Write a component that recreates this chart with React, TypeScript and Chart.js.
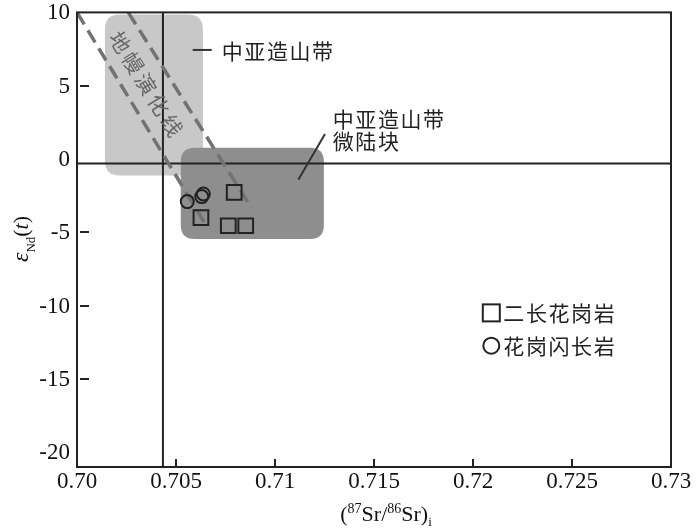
import React, { useEffect, useRef } from "react";
import { Chart, registerables } from "chart.js";

Chart.register(...registerables);

// ---------- data ----------
const xTickValues = [0.7, 0.705, 0.71, 0.715, 0.72, 0.725, 0.73];
const xTickLabels = ["0.70", "0.705", "0.71", "0.715", "0.72", "0.725", "0.73"];
const yTickValues = [10, 5, 0, -5, -10, -15, -20];
const yTickLabels = ["10", "5", "0", "-5", "-10", "-15", "-20"];
const xInnerTicks = [0.705, 0.71, 0.715, 0.72, 0.725];
const yInnerTicks = [5, -5, -10, -15];

const monzograniteLabel = "二长花岗岩";
const monzograniteX = [0.70794, 0.70626, 0.70764, 0.70852];
const monzograniteY = [-2.27, -3.99, -4.55, -4.55];

const granodioriteLabel = "花岗闪长岩";
const granodioriteX = [0.70557, 0.7063, 0.70638];
const granodioriteY = [-2.9, -2.56, -2.38];

const mantleLineAX = [0.7, 0.70646];
const mantleLineAY = [10, -4.39];
const mantleLineBX = [0.70259, 0.70882];
const mantleLineBY = [10, -3.35];

const bulkEarthSr = 0.70434;
const churNd = -0.3;

const caobFieldX = [0.70141, 0.70636];
const caobFieldY = [-1.13, 9.86];
const microFieldX = [0.70524, 0.71247];
const microFieldY = [-5.46, 0.77];

const caobText = "中亚造山带";
const microText = ["中亚造山带", "微陆块"];
const mantleText = "地幔演化线";

const X_MIN = 0.7;
const X_MAX = 0.73;
const Y_MIN = -21;
const Y_MAX = 10;

// ---------- helpers ----------
const SERIF = "'Liberation Serif', 'Times New Roman', serif";
const CJK = "'Noto Sans CJK SC', 'Noto Sans', sans-serif";

function roundRectPath(ctx: CanvasRenderingContext2D, x0: number, y0: number, x1: number, y1: number, r: number) {
  const x = Math.min(x0, x1), y = Math.min(y0, y1);
  const w = Math.abs(x1 - x0), h = Math.abs(y1 - y0);
  ctx.beginPath();
  ctx.moveTo(x + r, y);
  ctx.lineTo(x + w - r, y);
  ctx.quadraticCurveTo(x + w, y, x + w, y + r);
  ctx.lineTo(x + w, y + h - r);
  ctx.quadraticCurveTo(x + w, y + h, x + w - r, y + h);
  ctx.lineTo(x + r, y + h);
  ctx.quadraticCurveTo(x, y + h, x, y + h - r);
  ctx.lineTo(x, y + r);
  ctx.quadraticCurveTo(x, y, x + r, y);
  ctx.closePath();
}

type Part = { t: string; font: string; dy: number };
function drawRich(ctx: CanvasRenderingContext2D, parts: Part[], cx: number, baseY: number) {
  let total = 0;
  for (const p of parts) {
    ctx.font = p.font;
    total += ctx.measureText(p.t).width;
  }
  let x = cx - total / 2;
  ctx.textAlign = "left";
  ctx.textBaseline = "alphabetic";
  for (const p of parts) {
    ctx.font = p.font;
    ctx.fillText(p.t, x, baseY + p.dy);
    x += ctx.measureText(p.t).width;
  }
}

function cjkText(ctx: CanvasRenderingContext2D, text: string, x: number, y: number, size: number, spacing: number, color: string) {
  ctx.save();
  ctx.font = `${size}px ${CJK}`;
  (ctx as any).letterSpacing = `${spacing}px`;
  ctx.fillStyle = color;
  ctx.textAlign = "left";
  ctx.textBaseline = "middle";
  ctx.fillText(text, x, y);
  ctx.restore();
}

const annotPlugin = {
  id: "annot",
  beforeDatasetsDraw(chart: any) {
    const { ctx, scales } = chart;
    const xs = scales.x, ys = scales.y;
    ctx.save();
    roundRectPath(ctx, xs.getPixelForValue(caobFieldX[0]), ys.getPixelForValue(caobFieldY[1]),
      xs.getPixelForValue(caobFieldX[1]), ys.getPixelForValue(caobFieldY[0]), 15);
    ctx.fillStyle = "#c8c8c8";
    ctx.fill();
    roundRectPath(ctx, xs.getPixelForValue(microFieldX[0]), ys.getPixelForValue(microFieldY[1]),
      xs.getPixelForValue(microFieldX[1]), ys.getPixelForValue(microFieldY[0]), 14);
    ctx.fillStyle = "#8e8e8e";
    ctx.fill();
    ctx.restore();
  },
  afterDatasetsDraw(chart: any) {
    const { ctx, scales } = chart;
    const xs = scales.x, ys = scales.y;
    const px = (v: number) => xs.getPixelForValue(v);
    const py = (v: number) => ys.getPixelForValue(v);
    ctx.save();
    // rotated mantle text
    ctx.save();
    ctx.translate(px(0.703475), py(5.14));
    ctx.rotate((58.2 * Math.PI) / 180);
    ctx.font = `21px ${CJK}`;
    (ctx as any).letterSpacing = "3.5px";
    ctx.fillStyle = "#666";
    ctx.textAlign = "center";
    ctx.textBaseline = "middle";
    ctx.fillText(mantleText, 2, 0);
    ctx.restore();

    // CAOB label with leader
    ctx.strokeStyle = "#333";
    ctx.lineWidth = 2;
    ctx.beginPath();
    ctx.moveTo(px(0.705843), py(7.44));
    ctx.lineTo(px(0.706803), py(7.44));
    ctx.stroke();
    cjkText(ctx, caobText, px(0.707308), py(7.39), 21, 1.6, "#222");

    // microcontinent label with leader
    ctx.beginPath();
    ctx.moveTo(px(0.712525), py(1.7));
    ctx.lineTo(px(0.711177), py(-1.42));
    ctx.stroke();
    cjkText(ctx, microText[0], px(0.712914), py(2.71), 21, 1.6, "#222");
    cjkText(ctx, microText[1], px(0.712914), py(1.25), 21, 1.6, "#222");

    // legend
    const lx = px(0.720924);
    const tx = px(0.72143);
    const r1 = py(-10.49), r2 = py(-12.73);
    ctx.strokeStyle = "#222";
    ctx.lineWidth = 2;
    ctx.strokeRect(lx - 8.5, r1 - 8.5, 17, 17);
    ctx.beginPath();
    ctx.arc(lx, r2, 8, 0, Math.PI * 2);
    ctx.stroke();
    cjkText(ctx, monzograniteLabel, tx + 2, r1, 21, 1.6, "#222");
    cjkText(ctx, granodioriteLabel, tx + 2, r2, 21, 1.6, "#222");
    ctx.restore();
  },
  afterDraw(chart: any) {
    const { ctx, chartArea, scales } = chart;
    const xs = scales.x, ys = scales.y;
    ctx.save();
    ctx.strokeStyle = "#222";
    ctx.lineWidth = 2;
    ctx.strokeRect(chartArea.left, chartArea.top, chartArea.right - chartArea.left, chartArea.bottom - chartArea.top);
    ctx.beginPath();
    for (const v of xInnerTicks) {
      const xp = Math.round(xs.getPixelForValue(v));
      ctx.moveTo(xp, chartArea.bottom);
      ctx.lineTo(xp, chartArea.bottom - 8);
    }
    for (const v of yInnerTicks) {
      const yp = Math.round(ys.getPixelForValue(v));
      ctx.moveTo(chartArea.left + 3, yp);
      ctx.lineTo(chartArea.left + 12, yp);
    }
    ctx.stroke();

    // tick labels
    ctx.fillStyle = "#111";
    ctx.font = `23px ${SERIF}`;
    ctx.textBaseline = "middle";
    ctx.textAlign = "center";
    xTickValues.forEach((v, i) => {
      ctx.fillText(xTickLabels[i], xs.getPixelForValue(v), chartArea.bottom + 15);
    });
    ctx.textAlign = "right";
    yTickValues.forEach((v, i) => {
      ctx.fillText(yTickLabels[i], chartArea.left - 7, ys.getPixelForValue(v) + 1);
    });

    // x title
    drawRich(ctx, [
      { t: "(", font: `22px ${SERIF}`, dy: 0 },
      { t: "87", font: `14px ${SERIF}`, dy: -8 },
      { t: "Sr/", font: `22px ${SERIF}`, dy: 0 },
      { t: "86", font: `14px ${SERIF}`, dy: -8 },
      { t: "Sr)", font: `22px ${SERIF}`, dy: 0 },
      { t: "i", font: `13px ${SERIF}`, dy: 5 },
    ], 386, 521);

    // y title
    ctx.save();
    ctx.translate(28, 239);
    ctx.rotate(-Math.PI / 2);
    drawRich(ctx, [
      { t: "ε", font: `italic 24px ${SERIF}`, dy: 0 },
      { t: "Nd", font: `13px ${SERIF}`, dy: 7 },
      { t: "(", font: `22px ${SERIF}`, dy: 0 },
      { t: "t", font: `italic 22px ${SERIF}`, dy: 0 },
      { t: ")", font: `22px ${SERIF}`, dy: 0 },
    ], 0, 0);
    ctx.restore();
    ctx.restore();
  },
};

export default function App() {
  const ref = useRef<HTMLCanvasElement | null>(null);
  useEffect(() => {
    if (!ref.current) return;
    const pts = (xs: number[], ys: number[]) => xs.map((x, i) => ({ x, y: ys[i] }));
    const chart = new Chart(ref.current, {
      type: "scatter",
      data: {
        datasets: [
          {
            label: monzograniteLabel,
            data: pts(monzograniteX, monzograniteY),
            pointStyle: "rect",
            pointRadius: 10.4,
            pointBorderWidth: 2,
            borderColor: "#222",
            backgroundColor: "rgba(0,0,0,0)",
            showLine: false,
          } as any,
          {
            label: granodioriteLabel,
            data: pts(granodioriteX, granodioriteY),
            pointStyle: "circle",
            pointRadius: 6.5,
            pointBorderWidth: 2,
            borderColor: "#222",
            backgroundColor: "rgba(0,0,0,0)",
            showLine: false,
          } as any,
          {
            label: "mantle A",
            data: pts(mantleLineAX, mantleLineAY),
            showLine: true,
            borderColor: "#727272",
            borderWidth: 3.5,
            borderDash: [14, 7],
            pointRadius: 0,
          } as any,
          {
            label: "mantle B",
            data: pts(mantleLineBX, mantleLineBY),
            showLine: true,
            borderColor: "#727272",
            borderWidth: 3.5,
            borderDash: [14, 7],
            pointRadius: 0,
          } as any,
          {
            label: "Sr ref",
            data: [{ x: bulkEarthSr, y: Y_MIN }, { x: bulkEarthSr, y: Y_MAX }],
            showLine: true,
            borderColor: "#222",
            borderWidth: 2,
            pointRadius: 0,
          } as any,
          {
            label: "Nd ref",
            data: [{ x: X_MIN, y: churNd }, { x: X_MAX, y: churNd }],
            showLine: true,
            borderColor: "#222",
            borderWidth: 2,
            pointRadius: 0,
          } as any,
        ],
      },
      options: {
        responsive: false,
        animation: false,
        events: [],
        layout: { padding: { top: 10, right: 29, left: 0, bottom: 0 } },
        plugins: { legend: { display: false }, tooltip: { enabled: false } },
        scales: {
          x: {
            type: "linear",
            min: X_MIN,
            max: X_MAX,
            grid: { display: false, drawTicks: false },
            border: { display: false },
            afterBuildTicks: (s: any) => { s.ticks = xTickValues.map((v) => ({ value: v })); },
            afterFit: (s: any) => { s.height = 63; s.paddingLeft = 0; s.paddingRight = 0; },
            ticks: { display: false },
          },
          y: {
            type: "linear",
            min: Y_MIN,
            max: Y_MAX,
            grid: { display: false, drawTicks: false },
            border: { display: false },
            afterBuildTicks: (s: any) => { s.ticks = yTickValues.map((v) => ({ value: v })); },
            afterFit: (s: any) => { s.width = 77; s.paddingTop = 0; s.paddingBottom = 0; },
            ticks: { display: false },
          },
        },
      } as any,
      plugins: [annotPlugin],
    });
    return () => chart.destroy();
  }, []);
  return (
    <div style={{ position: "fixed", left: 0, top: 0, width: 700, height: 530, background: "#fff" }}>
      <canvas ref={ref} width={700} height={530} />
    </div>
  );
}
